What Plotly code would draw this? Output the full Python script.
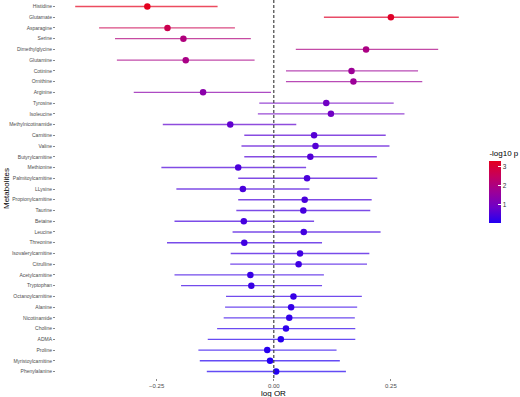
import plotly.graph_objects as go
from plotly.colors import sample_colorscale

metabolites = ["Histidine", "Glutamate", "Asparagine", "Serine", "Dimethylglycine", "Glutamine",
               "Cotinine", "Ornithine", "Arginine", "Tyrosine", "Isoleucine", "Methylnicotinamide",
               "Carnitine", "Valine", "Butyrylcarnitine", "Methionine", "Palmitoylcarnitine", "LLysine",
               "Propionylcarnitine", "Taurine", "Betaine", "Leucine", "Threonine", "Isovalerylcarnitine",
               "Citrulline", "Acetylcarnitine", "Tryptophan", "Octanoylcarnitine", "Alanine", "Nicotinamide",
               "Choline", "ADMA", "Proline", "Myristoylcarnitine", "Phenylalanine"]
log_or = [-0.270, 0.250, -0.227, -0.193, 0.197, -0.188, 0.166, 0.170, -0.151, 0.112, 0.122, -0.093,
          0.086, 0.089, 0.078, -0.076, 0.071, -0.066, 0.066, 0.063, -0.064, 0.064, -0.063, 0.056,
          0.053, -0.050, -0.048, 0.042, 0.037, 0.033, 0.026, 0.015, -0.014, -0.008, 0.005]
ci_low = [-0.424, 0.107, -0.373, -0.339, 0.047, -0.335, 0.026, 0.026, -0.299, -0.031, -0.034, -0.237,
          -0.063, -0.069, -0.063, -0.240, -0.076, -0.208, -0.076, -0.080, -0.212, -0.088, -0.228, -0.092,
          -0.093, -0.212, -0.198, -0.102, -0.104, -0.107, -0.121, -0.141, -0.161, -0.158, -0.143]
ci_high = [-0.120, 0.395, -0.083, -0.049, 0.351, -0.041, 0.308, 0.317, -0.006, 0.256, 0.279, 0.048,
           0.239, 0.247, 0.220, 0.069, 0.221, 0.076, 0.209, 0.206, 0.086, 0.228, 0.103, 0.204,
           0.199, 0.107, 0.103, 0.188, 0.178, 0.173, 0.174, 0.174, 0.134, 0.141, 0.154]
neglog10p = [3.30, 3.17, 2.67, 2.05, 1.96, 1.92, 1.68, 1.66, 1.36, 0.90, 0.90, 0.70,
             0.58, 0.57, 0.55, 0.47, 0.46, 0.44, 0.44, 0.41, 0.40, 0.37, 0.34, 0.34,
             0.32, 0.27, 0.27, 0.25, 0.21, 0.19, 0.14, 0.07, 0.07, 0.04, 0.02]
x_tickvals = [-0.25, 0.0, 0.25]
x_ticktext = ["\u22120.25", "0.00", "0.25"]

colorscale = [[0.0, "#2200F2"], [0.25, "#6E00C8"], [0.5, "#9C0098"], [0.75, "#C4005E"], [1.0, "#E4001E"]]
cmin, cmax = min(neglog10p), max(neglog10p)
FONT = "Liberation Sans, Arial, sans-serif"

fig = go.Figure()
norm = [(v - cmin) / (cmax - cmin) for v in neglog10p]
line_colors = sample_colorscale(colorscale, norm)
for name, lo, hi, col in zip(metabolites, ci_low, ci_high, line_colors):
    fig.add_trace(go.Scatter(x=[lo, hi], y=[name, name], mode="lines",
                             line=dict(color=col, width=1.4), opacity=0.7,
                             showlegend=False, hoverinfo="skip"))

fig.add_trace(go.Scatter(
    x=log_or, y=metabolites, mode="markers", showlegend=False,
    marker=dict(size=6.5, color=neglog10p, colorscale=colorscale, cmin=cmin, cmax=cmax,
                line=dict(width=0),
                colorbar=dict(title=dict(text="-log10 p", side="top", font=dict(size=8, family=FONT, color="black")),
                              thickness=12, lenmode="pixels", len=76, x=1.027, xanchor="left",
                              y=0.41, yanchor="bottom", xpad=0, ypad=0, outlinewidth=0,
                              tickvals=[1, 2, 3], ticks="inside", tickcolor="white", ticklen=3,
                              tickfont=dict(size=6.5, family=FONT, color="#333333")))))

fig.add_vline(x=0, line=dict(color="#444444", width=1.2, dash="3px,2px"))

fig.add_annotation(text="log OR", x=0, xref="x", y=0, yref="paper", yshift=-15,
                   xanchor="center", yanchor="middle", showarrow=False,
                   font=dict(size=8, color="black", family=FONT))
fig.add_annotation(text="Metabolites", x=0, xref="paper", xshift=-50, y=0.5, yref="paper",
                   textangle=-90, xanchor="center", yanchor="middle", showarrow=False,
                   font=dict(size=8, color="black", family=FONT))

fig.update_layout(
    width=520, height=397, margin=dict(l=55.5, r=41.5, t=0, b=19.3, autoexpand=False),
    paper_bgcolor="white", plot_bgcolor="white", font=dict(family=FONT),
    xaxis=dict(range=[-0.465, 0.436], tickvals=x_tickvals, ticktext=x_ticktext, showgrid=False,
               zeroline=False, showline=False, ticks="outside", ticklen=2, tickcolor="#888888",
               tickfont=dict(size=6, color="#4D4D4D"), automargin=False),
    yaxis=dict(categoryorder="array", categoryarray=metabolites[::-1], range=[-0.6, 34.6],
               showgrid=False, zeroline=False, showline=False, ticks="outside", ticklen=2,
               tickcolor="#888888", tickfont=dict(size=5, color="#4D4D4D"), automargin=False),
)

fig.write_html("out.html", config={"displayModeBar": False},
               post_script="document.body.style.margin='0px';document.body.style.overflow='hidden';")
